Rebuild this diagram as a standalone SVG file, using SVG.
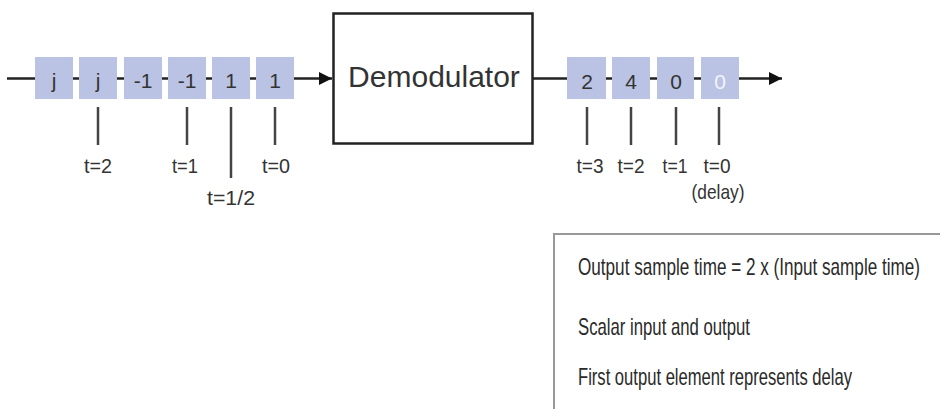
<svg xmlns="http://www.w3.org/2000/svg" width="940" height="409" viewBox="0 0 940 409">
<style>
.cell{fill:#bac3e3}
.val{font-family:"Liberation Sans",Arial,sans-serif;font-size:21px;fill:#333;text-anchor:middle}
.lbl{font-family:"Liberation Sans",Arial,sans-serif;font-size:21px;fill:#333;text-anchor:middle}
.note{font-family:"Liberation Sans",Arial,sans-serif;font-size:18px;fill:#2a2a2a}
.wire{stroke:#222;stroke-width:2.5;fill:none}
.tick{stroke:#444;stroke-width:2.5}
</style>
<defs>
<marker id="arr" markerUnits="userSpaceOnUse" markerWidth="14" markerHeight="14" refX="13" refY="7" orient="auto">
<path d="M0,0.5 L13,7 L0,13.5 Z" fill="#111"/>
</marker>
</defs>
<rect width="940" height="409" fill="#fff"/>
<g id="connectors">
<line class="wire" x1="7" y1="78.5" x2="332" y2="78.5" marker-end="url(#arr)"/>
<line class="wire" x1="533" y1="78.5" x2="782" y2="78.5" marker-end="url(#arr)"/>
</g>
<g id="input-samples">
<rect class="cell" x="35" y="57" width="38" height="42"/>
<rect class="cell" x="79" y="57" width="38" height="42"/>
<rect class="cell" x="124" y="57" width="38" height="42"/>
<rect class="cell" x="168" y="57" width="38" height="42"/>
<rect class="cell" x="212" y="57" width="38" height="42"/>
<rect class="cell" x="256" y="57" width="38" height="42"/>
<text class="val" x="54" y="88">j</text>
<text class="val" x="98" y="88">j</text>
<text class="val" x="143" y="88">-1</text>
<text class="val" x="187" y="88">-1</text>
<text class="val" x="231" y="88">1</text>
<text class="val" x="275" y="88">1</text>
</g>
<g id="input-times">
<line class="tick" x1="98" y1="107" x2="98" y2="145"/>
<line class="tick" x1="187" y1="107" x2="187" y2="145"/>
<line class="tick" x1="231" y1="107" x2="231" y2="178"/>
<line class="tick" x1="275" y1="107" x2="275" y2="145"/>
<text class="lbl" x="98" y="173" textLength="28" lengthAdjust="spacingAndGlyphs">t=2</text>
<text class="lbl" x="185" y="173" textLength="26" lengthAdjust="spacingAndGlyphs">t=1</text>
<text class="lbl" x="231" y="205" textLength="48" lengthAdjust="spacingAndGlyphs">t=1/2</text>
<text class="lbl" x="276" y="173" textLength="28" lengthAdjust="spacingAndGlyphs">t=0</text>
</g>
<g id="demodulator">
<rect x="333.5" y="13.5" width="199" height="130" fill="#fff" stroke="#222" stroke-width="2.5"/>
<text x="434" y="87" font-family="'Liberation Sans',Arial,sans-serif" font-size="30" fill="#333" text-anchor="middle">Demodulator</text>
</g>
<g id="output-samples">
<rect class="cell" x="567" y="57" width="39" height="42"/>
<rect class="cell" x="612" y="57" width="38" height="42"/>
<rect class="cell" x="657" y="57" width="37" height="42"/>
<rect class="cell" x="701" y="57" width="38" height="42"/>
<text class="val" x="587" y="89">2</text>
<text class="val" x="631" y="89">4</text>
<text class="val" x="676" y="89">0</text>
<text class="val" x="720" y="89" style="fill:#f2f4fb">0</text>
</g>
<g id="output-times">
<line class="tick" x1="587" y1="107" x2="587" y2="145"/>
<line class="tick" x1="631" y1="107" x2="631" y2="145"/>
<line class="tick" x1="676" y1="107" x2="676" y2="145"/>
<line class="tick" x1="719" y1="107" x2="719" y2="145"/>
<text class="lbl" x="590" y="173" textLength="27" lengthAdjust="spacingAndGlyphs">t=3</text>
<text class="lbl" x="631" y="173" textLength="27" lengthAdjust="spacingAndGlyphs">t=2</text>
<text class="lbl" x="675" y="173" textLength="25" lengthAdjust="spacingAndGlyphs">t=1</text>
<text class="lbl" x="717" y="173" textLength="27" lengthAdjust="spacingAndGlyphs">t=0</text>
<text class="lbl" x="718" y="199" textLength="53" lengthAdjust="spacingAndGlyphs">(delay)</text>
</g>
<g id="notes">
<path d="M554,410 V234 H940" fill="none" stroke="#999" stroke-width="2"/>
<text class="note" transform="translate(578,275) scale(1,1.3)" textLength="342" lengthAdjust="spacingAndGlyphs">Output sample time = 2 x (Input sample time)</text>
<text class="note" transform="translate(578,335) scale(1,1.3)" textLength="172" lengthAdjust="spacingAndGlyphs">Scalar input and output</text>
<text class="note" transform="translate(578,385) scale(1,1.3)" textLength="274" lengthAdjust="spacingAndGlyphs">First output element represents delay</text>
</g>
</svg>
